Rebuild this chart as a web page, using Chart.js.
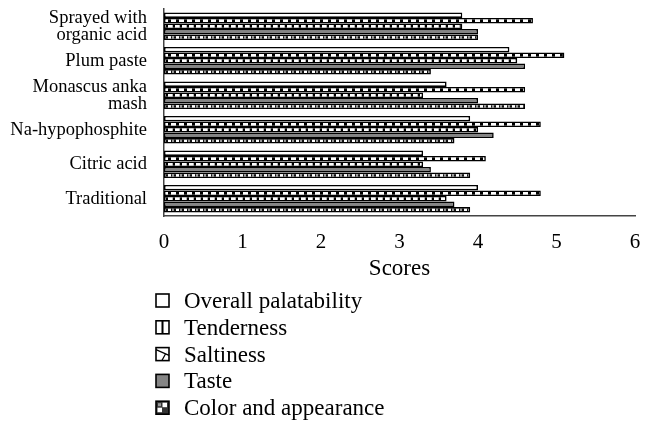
<!DOCTYPE html>
<html>
<head>
<meta charset="utf-8">
<script src="https://cdn.jsdelivr.net/npm/chart.js@4"></script>
<style>
  html, body { margin: 0; padding: 0; background: #fff; }
  #wrap { width: 652px; height: 426px; }
</style>
</head>
<body>
<div id="wrap"><canvas id="scoreChart" width="652" height="426"></canvas></div>
<script>
// treatments, top to bottom
const treatments = [
    ['Sprayed with', 'organic acid'],
    'Plum paste',
    ['Monascus anka', 'mash'],
    'Na-hypophosphite',
    'Citric acid',
    'Traditional'
];
const seriesNames = ['Overall palatability', 'Tenderness', 'Saltiness', 'Taste', 'Color and appearance'];

const overall = [3.8, 4.4, 3.6, 3.9, 3.3, 4.0];
const tenderness = [4.7, 5.1, 4.6, 4.8, 4.1, 4.8];
const saltiness = [3.8, 4.5, 3.3, 4.0, 3.3, 3.6];
const taste = [4.0, 4.6, 4.0, 4.2, 3.4, 3.7];
const colour = [4.0, 3.4, 4.6, 3.7, 3.9, 3.9];

const xTicks = [0, 1, 2, 3, 4, 5, 6];

const SERIF = '"Liberation Serif", "DejaVu Serif", serif';

// small tiles used as fill patterns (1px tall so they line up inside thin bars)
function makePattern(w, h, draw) {
    const c = document.createElement('canvas');
    c.width = w; c.height = h;
    const g = c.getContext('2d');
    draw(g);
    return document.getElementById('scoreChart').getContext('2d').createPattern(c, 'repeat');
}

const plainWhite = '#ffffff';
const stripes = makePattern(8, 1, g => {
    g.fillStyle = '#000'; g.fillRect(0, 0, 8, 1);
    g.fillStyle = '#fff'; g.fillRect(3, 0, 5, 1);
});
const dashes = makePattern(7, 1, g => {
    g.fillStyle = '#000'; g.fillRect(0, 0, 7, 1);
    g.fillStyle = '#fff'; g.fillRect(0, 0, 4, 1);
    g.fillStyle = '#bbb'; g.fillRect(4, 0, 1, 1);
});
const grey = '#858585';
const speckled = makePattern(8, 1, g => {
    g.fillStyle = '#111'; g.fillRect(0, 0, 8, 1);
    g.fillStyle = '#fff'; g.fillRect(0, 0, 3, 1);
    g.fillStyle = '#999'; g.fillRect(4, 0, 2, 1);
});

const fills = [plainWhite, stripes, dashes, grey, speckled];
const values = [overall, tenderness, saltiness, taste, colour];

// legend swatches are bigger than the bars, so they get their own little drawings
function drawSwatch(ctx, i, x, y, s) {
    ctx.fillStyle = i === 3 ? grey : (i === 4 ? '#333' : '#fff');
    ctx.fillRect(x, y, s, s);
    ctx.strokeStyle = '#000';
    ctx.fillStyle = '#000';
    if (i === 1) {
        ctx.fillRect(x + s / 2 - 1, y, 2, s);
    } else if (i === 2) {
        ctx.lineWidth = 1.2;
        ctx.beginPath();
        ctx.moveTo(x, y + 2); ctx.lineTo(x + s, y + s * 0.6);
        ctx.moveTo(x + s * 0.45, y + s); ctx.lineTo(x + s * 0.75, y + s * 0.45);
        ctx.stroke();
    } else if (i === 4) {
        ctx.fillStyle = '#fff';
        ctx.fillRect(x + s / 2, y + 1.5, s / 2 - 2, s / 2 - 2);
        ctx.fillRect(x + 1.5, y + s / 2, s / 2 - 2, s / 2 - 2);
        ctx.fillStyle = '#999';
        ctx.fillRect(x + 2, y + 2, 3, 3);
    }
    ctx.lineWidth = 1.6;
    ctx.strokeRect(x, y, s, s);
}

// legend stacked in one column under the axis title
const columnLegend = {
    id: 'columnLegend',
    afterDraw(chart) {
        const ctx = chart.ctx;
        ctx.save();
        chart.data.datasets.forEach((ds, i) => {
            const y = 301 + i * 26.8;
            drawSwatch(ctx, i, 156, y - 7, 13);
            ctx.font = '23px ' + SERIF;
            ctx.textBaseline = 'middle';
            ctx.fillStyle = '#000';
            ctx.fillText(ds.label, 184, y + 1);
        });
        ctx.restore();
    }
};

const ctx = document.getElementById('scoreChart').getContext('2d');
const chart = new Chart(ctx, {
    type: 'bar',
    data: {
        labels: treatments,
        datasets: seriesNames.map((name, i) => ({
            label: name,
            data: values[i],
            backgroundColor: fills[i],
            borderColor: '#000',
            borderWidth: 1.6,
            borderSkipped: false,
            categoryPercentage: 0.8,
            barPercentage: 1.0
        }))
    },
    options: {
        indexAxis: 'y',
        responsive: false,
        animation: false,
        devicePixelRatio: 1,
        layout: { padding: { top: 9, right: 17, bottom: 146, left: 0 } },
        plugins: {
            legend: { display: false },
            tooltip: { enabled: false }
        },
        scales: {
            x: {
                min: 0,
                max: 6,
                afterBuildTicks: scale => { scale.ticks = xTicks.map(v => ({ value: v })); },
                afterFit: scale => { scale.height = 64; },
                grid: { display: false },
                border: { display: true, color: '#444', width: 1.5 },
                ticks: { color: '#000', padding: 8, font: { family: SERIF, size: 21, lineHeight: 1 } },
                title: {
                    display: true,
                    text: 'Scores',
                    color: '#000',
                    padding: { top: 0, bottom: 0 },
                    font: { family: SERIF, size: 23, lineHeight: 1 }
                }
            },
            y: {
                afterFit: scale => {
                    scale.width = 164;
                    scale.paddingTop = 0;
                    scale.paddingBottom = 0;
                },
                grid: { display: false },
                border: { display: true, color: '#444', width: 1.5 },
                ticks: { color: '#000', padding: 9, autoSkip: false, font: { family: SERIF, size: 18.5, lineHeight: 0.93 } }
            }
        }
    },
    plugins: [columnLegend]
});
</script>
</body>
</html>
